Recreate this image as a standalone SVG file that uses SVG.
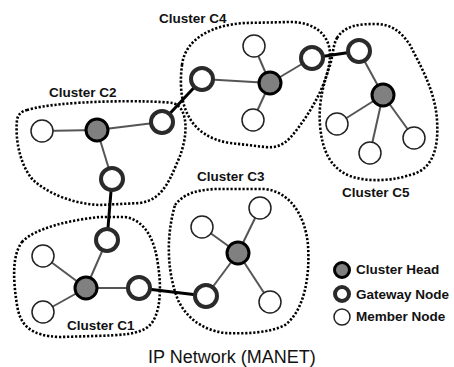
<svg xmlns="http://www.w3.org/2000/svg" width="454" height="367" viewBox="0 0 454 367">
<style>
.hull{fill:none;stroke:#000;stroke-width:2.6;stroke-dasharray:2.2 1.8}
.e{stroke:#555;stroke-width:2;fill:none}
.g{stroke:#000;stroke-width:3;fill:none}
.mem{fill:#fff;stroke:#222;stroke-width:1.5}
.head{fill:#808080;stroke:#000;stroke-width:3}
.gw{fill:#fff;stroke:#2a2a2a;stroke-width:4}
.lbl{font-family:"Liberation Sans",Arial,sans-serif;font-weight:bold;font-size:13.5px;fill:#111}
.title{font-family:"Liberation Sans",Arial,sans-serif;font-size:18px;fill:#111}
</style>
<rect width="454" height="367" fill="#fff"/>
<g id="clusters">
<path id="hull-c2" class="hull" d="M27,110 C60,100 150,100 173,103 C190,108 188,140 177,163 C168,185 160,200 140,203 L100,205 C75,204 50,195 33,180 C20,165 15,140 17,120 C18,114 22,111 27,110 Z"/>
<path id="hull-c4" class="hull" d="M182,65 C185,40 210,25 245,23 L290,22 C315,22 330,35 330,55 C330,80 310,115 290,138 C282,146 275,148 265,147 L230,143 C210,140 195,130 188,115 C180,100 180,80 182,65 Z"/>
<path id="hull-c5" class="hull" d="M337,38 C345,25 360,24 375,24 C390,24 400,30 410,45 C420,65 435,90 437,120 C439,150 432,170 410,175 C395,180 370,183 350,176 C330,168 322,150 320,125 C318,100 325,80 330,65 C333,55 333,45 337,38 Z"/>
<path id="hull-c3" class="hull" d="M175,205 C185,192 200,190 215,189 L265,189 C290,192 305,215 308,245 C310,275 305,310 285,325 C270,333 245,334 225,333 C200,330 185,315 178,300 C168,275 165,240 175,205 Z"/>
<path id="hull-c1" class="hull" d="M22,242 C35,228 70,220 100,217 L125,217 C145,220 155,240 158,265 C162,290 160,315 150,325 C140,335 120,335 95,336 L60,337 C30,336 20,325 17,305 C13,280 12,255 22,242 Z"/>
</g>
<g id="connectors">
<line class="e" x1="42" y1="131" x2="97" y2="130"/>
<line class="e" x1="97" y1="130" x2="162" y2="122"/>
<line class="e" x1="97" y1="130" x2="112" y2="179"/>
<line class="e" x1="270" y1="83" x2="202" y2="79"/>
<line class="e" x1="270" y1="83" x2="254" y2="46"/>
<line class="e" x1="270" y1="83" x2="253" y2="120"/>
<line class="e" x1="270" y1="83" x2="312" y2="58"/>
<line class="e" x1="383" y1="95" x2="359" y2="51"/>
<line class="e" x1="383" y1="95" x2="337" y2="124"/>
<line class="e" x1="383" y1="95" x2="370" y2="153"/>
<line class="e" x1="383" y1="95" x2="414" y2="138"/>
<line class="e" x1="86" y1="288" x2="107" y2="240"/>
<line class="e" x1="86" y1="288" x2="43" y2="256"/>
<line class="e" x1="86" y1="288" x2="43" y2="312"/>
<line class="e" x1="86" y1="288" x2="139" y2="288"/>
<line class="e" x1="238" y1="253" x2="202" y2="227"/>
<line class="e" x1="238" y1="253" x2="260" y2="208"/>
<line class="e" x1="238" y1="253" x2="270" y2="302"/>
<line class="e" x1="238" y1="253" x2="206" y2="296"/>
<line class="g" x1="162" y1="122" x2="202" y2="79"/>
<line class="g" x1="112" y1="179" x2="107" y2="240"/>
<line class="g" x1="312" y1="58" x2="359" y2="51"/>
<line class="g" x1="139" y1="288" x2="206" y2="296"/>
</g>
<g id="c2">
<circle class="mem" cx="42" cy="131" r="11"/>
<circle class="head" cx="97" cy="130" r="11"/>
<circle class="gw" cx="162" cy="122" r="11"/>
<circle class="gw" cx="112" cy="179" r="11"/>
<text class="lbl" x="49" y="97">Cluster C2</text>
</g>
<g id="c4">
<circle class="gw" cx="202" cy="79" r="11"/>
<circle class="head" cx="270" cy="83" r="11"/>
<circle class="mem" cx="254" cy="46" r="11"/>
<circle class="mem" cx="253" cy="120" r="11"/>
<circle class="gw" cx="312" cy="58" r="11"/>
<text class="lbl" x="159" y="23">Cluster C4</text>
</g>
<g id="c5">
<circle class="gw" cx="359" cy="51" r="11"/>
<circle class="head" cx="383" cy="95" r="11"/>
<circle class="mem" cx="337" cy="124" r="11"/>
<circle class="mem" cx="370" cy="153" r="11"/>
<circle class="mem" cx="414" cy="138" r="11"/>
<text class="lbl" x="342" y="197">Cluster C5</text>
</g>
<g id="c3">
<circle class="mem" cx="202" cy="227" r="11"/>
<circle class="mem" cx="260" cy="208" r="11"/>
<circle class="head" cx="238" cy="253" r="11"/>
<circle class="mem" cx="270" cy="302" r="11"/>
<circle class="gw" cx="206" cy="296" r="11"/>
<text class="lbl" x="197" y="181">Cluster C3</text>
</g>
<g id="c1">
<circle class="gw" cx="107" cy="240" r="11"/>
<circle class="mem" cx="43" cy="256" r="11"/>
<circle class="head" cx="86" cy="288" r="11"/>
<circle class="mem" cx="43" cy="312" r="11"/>
<circle class="gw" cx="139" cy="288" r="11"/>
<text class="lbl" x="67" y="330">Cluster C1</text>
</g>
<g id="legend">
<circle class="head" cx="342" cy="270" r="7.5"/>
<text class="lbl" x="356" y="274">Cluster Head</text>
<circle class="gw" cx="342" cy="294" r="7"/>
<text class="lbl" x="356" y="299">Gateway Node</text>
<circle class="mem" cx="342" cy="317" r="8"/>
<text class="lbl" x="356" y="321">Member Node</text>
</g>
<text id="title" class="title" x="148" y="363">IP Network (MANET)</text>
</svg>
